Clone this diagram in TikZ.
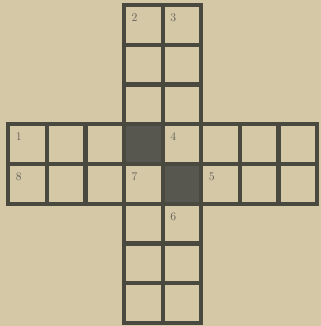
\documentclass[tikz,border=0pt]{standalone}
\usepackage{tikz}
\definecolor{paper}{HTML}{D5C8A6}
\definecolor{ink}{HTML}{4A4940}
\definecolor{shade}{HTML}{58574F}
\begin{document}
\begin{tikzpicture}[
  x=0.03cm, y=-0.03cm,
  cell/.style={draw=ink, line width=0.126cm, line join=miter},
  dark/.style={fill=shade},
  num/.style={text=ink!85, font=\fontsize{10}{10}\selectfont, inner sep=0pt},
]
\def\cw{38.6}
\def\ch{39.75}
\useasboundingbox (0,0) rectangle (321,326);
% paper
\fill[paper] (0,0) rectangle (321,326);
% shaded squares
\fill[dark] ({8.3+3*\cw},{5+3*\ch}) rectangle +(\cw,\ch);
\fill[dark] ({8.3+4*\cw},{5+4*\ch}) rectangle +(\cw,\ch);
% across arm
\foreach \i in {0,...,7}
  \foreach \j in {3,4}
    \draw[cell] ({8.3+\i*\cw},{5+\j*\ch}) rectangle +(\cw,\ch);
% down arm
\foreach \i in {3,4}
  \foreach \j in {0,1,2,5,6,7}
    \draw[cell] ({8.3+\i*\cw},{5+\j*\ch}) rectangle +(\cw,\ch);
% clue numbers
\foreach \i/\j/\n in {3/0/2, 4/0/3, 0/3/1, 4/3/4, 0/4/8, 3/4/7, 5/4/5, 4/5/6}
  \node[num] (num\n) at ({8.3+\i*\cw+10.5},{5+\j*\ch+12.5}) {\n};
\end{tikzpicture}
\end{document}
